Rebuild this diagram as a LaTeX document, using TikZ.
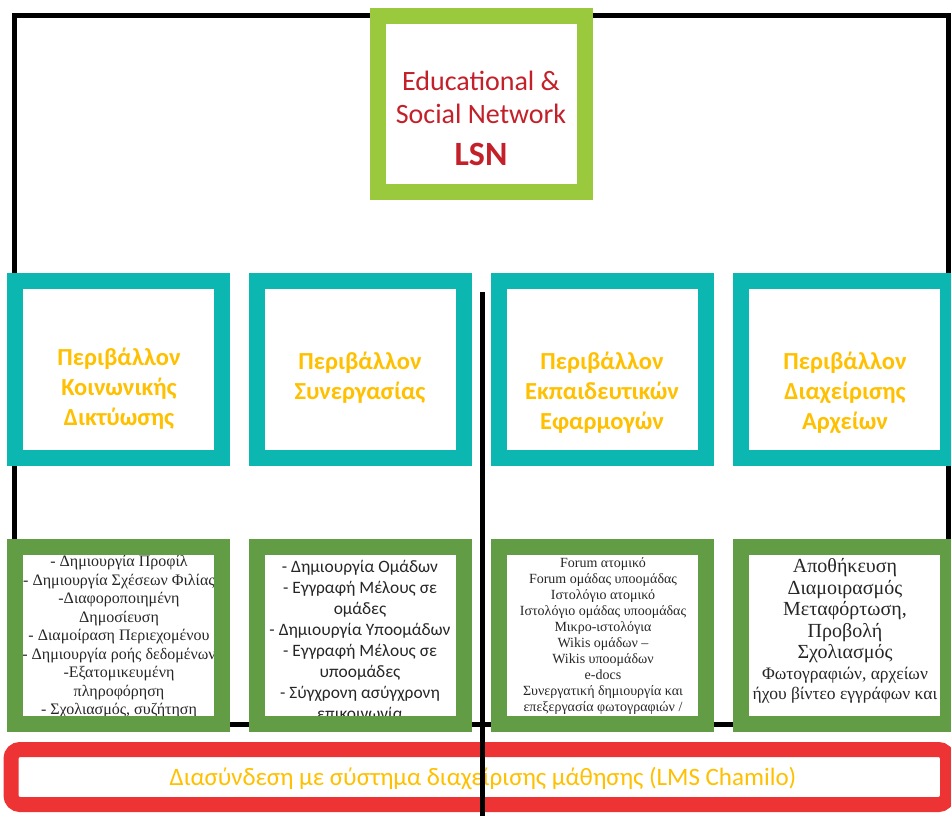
\documentclass[tikz,border=0pt]{standalone}
\usepackage{fontspec}
\setmainfont{Liberation Serif}
\newfontfamily\carlito{Carlito}

\definecolor{limegreen}{HTML}{9BC93D}
\definecolor{envteal}{HTML}{0DB7B1}
\definecolor{toolgreen}{HTML}{629C44}
\definecolor{lmsred}{HTML}{EE3334}
\definecolor{labelgold}{HTML}{FFC000}
\definecolor{titlered}{HTML}{C3202A}

\tikzset{
	frameline/.style={line width=5pt,black},
	lsnbox/.style={draw=limegreen,line width=16pt,fill=white},
	envbox/.style={draw=envteal,line width=16pt,fill=white},
	toolbox/.style={draw=toolgreen,line width=16pt},
	lmsbox/.style={draw=lmsred,line width=15pt,fill=white,rounded corners=9pt},
	envlabel/.style={text=labelgold,align=center,font=\carlito\bfseries\fontsize{24.5}{30}\selectfont},
	toollist/.style={align=center,text=black!85,inner sep=0pt},
}

\begin{document}
\begin{tikzpicture}[x=1pt,y=-1pt]
	\useasboundingbox (0,0) rectangle (951,816);

	% frame
	\draw[frameline] (14.5,15.5) rectangle (948.5,724);

	% blocks
	\draw[lsnbox] (378,16) rectangle (585,192); % network block
	\draw[envbox] (15,281) rectangle (222,458); % social networking block
	\draw[envbox] (257,281) rectangle (464,458); % collaboration block
	\draw[envbox] (499,281) rectangle (706,458); % educational apps block
	\draw[envbox] (741,281) rectangle (948,458); % file management block
	\draw[lmsbox] (11,749.5) rectangle (947.5,804.5); % lms block

	% label
	\node[text=titlered,align=center,font=\carlito\fontsize{28}{33}\selectfont] (lsntitle) at (481,97) {Educational \&\\Social Network};
	\node[text=titlered,font=\carlito\bfseries\fontsize{34}{34}\selectfont] (lsnname) at (481,154) {LSN};

	\node[envlabel] (social) at (119,389) {Περιβάλλον\\Κοινωνικής\\Δικτύωσης};
	\node[envlabel] (collab) at (360,378) {Περιβάλλον\\Συνεργασίας};
	\node[envlabel] (eduapps) at (602,393) {Περιβάλλον\\Εκπαιδευτικών\\Εφαρμογών};
	\node[envlabel] (files) at (845,393) {Περιβάλλον\\Διαχείρισης\\Αρχείων};

	\node[text=labelgold,font=\carlito\fontsize{25}{25}\selectfont] (lms) at (483,778) {Διασύνδεση με σύστημα διαχείρισης μάθησης (LMS Chamilo)};

	% lists
	\node[toollist,font=\fontsize{16}{18.5}\selectfont] (sociallist) at (119,637) {- Δημιουργία Προφίλ\\- Δημιουργία Σχέσεων Φιλίας\\-Διαφοροποιημένη\\Δημοσίευση\\- Διαμοίραση Περιεχομένου\\- Δημιουργία ροής δεδομένων\\-Εξατομικευμένη\\πληροφόρηση\\- Σχολιασμός, συζήτηση};
	\node[toollist,font=\carlito\fontsize{17.4}{21.1}\selectfont] (collablist) at (360,640) {- Δημιουργία Ομάδων\\- Εγγραφή Μέλους σε\\ομάδες\\- Δημιουργία Υποομάδων\\- Εγγραφή Μέλους σε\\υποομάδες\\- Σύγχρονη ασύγχρονη\\επικοινωνία};
	\node[toollist,font=\fontsize{14}{16.1}\selectfont] (edulist) at (603,636) {Forum ατομικό\\Forum ομάδας υποομάδας\\Ιστολόγιο ατομικό\\Ιστολόγιο ομάδας υποομάδας\\Μικρο-ιστολόγια\\Wikis ομάδων --\\Wikis υποομάδων\\e-docs\\Συνεργατική δημιουργία και\\επεξεργασία φωτογραφιών /};
	\node[toollist,font=\fontsize{20}{21.5}\selectfont] (storelist) at (845,611) {Αποθήκευση\\Διαμοιρασμός\\Μεταφόρτωση,\\Προβολή\\Σχολιασμός};
	\node[toollist,font=\fontsize{17.5}{20.5}\selectfont] (medialist) at (845,685) {Φωτογραφιών, αρχείων\\ήχου βίντεο εγγράφων και};

	% list blocks drawn over the text ends
	\draw[toolbox] (15,547) rectangle (222,724);
	\draw[toolbox] (257,547) rectangle (464,724);
	\draw[toolbox] (499,547) rectangle (706,724);
	\draw[toolbox] (741,547) rectangle (948,724);

	% middle line
	\draw[frameline] (482,292) -- (482,816);

\end{tikzpicture}
\end{document}
